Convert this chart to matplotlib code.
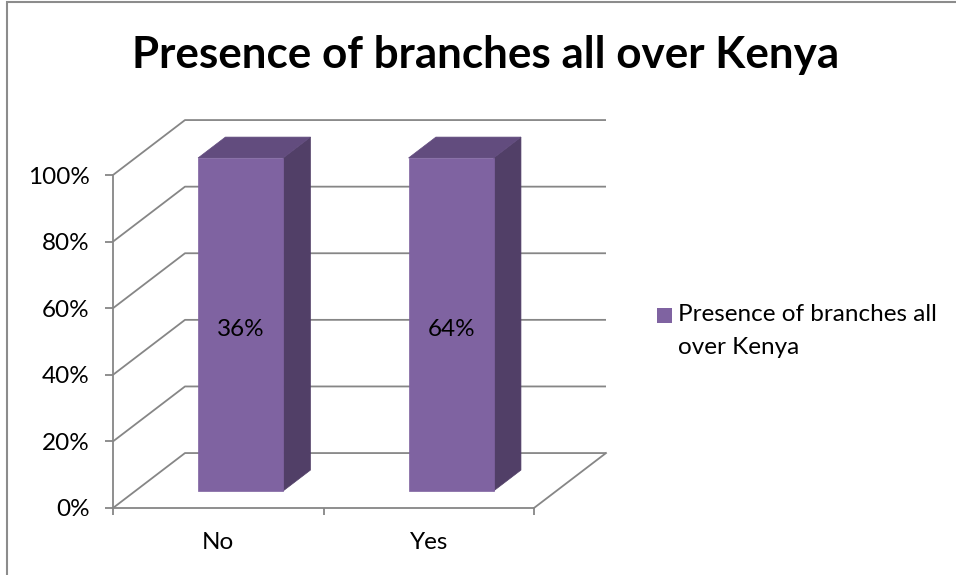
import matplotlib
matplotlib.use("Agg")
import matplotlib.pyplot as plt
from matplotlib.patches import Polygon, Rectangle

plt.rcParams['font.family'] = ['Lato', 'DejaVu Sans']

# ---- data ----
categories = ["No", "Yes"]
values = [36, 64]                       # shown as data labels
series_name = "Presence of branches all over Kenya"
title = "Presence of branches all over Kenya"
y_ticks = [0, 20, 40, 60, 80, 100]
y_tick_labels = ["0%", "20%", "40%", "60%", "80%", "100%"]

# 100% stacked with a single series -> each column fills 100%
shares = [v / v * 100 for v in values]

# ---- style / geometry ----
W, H = 956, 575
GRID = "#868686"
FRONT = "#7F63A1"
TOP = "#624C7E"
SIDE = "#513F67"
DX, DY = 0.342, 16.5        # offset of back wall (data units)
BAR_W = 0.404
D0, D1 = 0.31, 0.69         # bar depth range (fraction of depth)
FS = 17.5

fig = plt.figure(figsize=(W / 100, H / 100), dpi=100)
ax = fig.add_axes([0, 0, 1, 1])
px_x = 210.5                 # pixels per category unit
px_y = 3.33                  # pixels per percent
ax.set_xlim(-113 / px_x, (W - 113) / px_x)
ax.set_ylim(-(H - 508) / px_y, 508 / px_y)


def proj(x, y, d):
    return (x + d * DX, y + d * DY)


n = len(categories)
lw = 1.3
# walls / gridlines
for v in y_ticks:
    p0, p1, p2 = proj(0, v, 0), proj(0, v, 1), proj(n, v, 1)
    ax.plot([p0[0], p1[0], p2[0]], [p0[1], p1[1], p2[1]], color=GRID, lw=lw, zorder=1,
            solid_capstyle='butt')
a, b = proj(n, 0, 0), proj(n, 0, 1)
ax.plot([a[0], b[0]], [a[1], b[1]], color=GRID, lw=lw, zorder=1)

# axes spines
for s in ["top", "right"]:
    ax.spines[s].set_visible(False)
ax.spines["left"].set_position(("data", 0))
ax.spines["left"].set_bounds(0, 100)
ax.spines["bottom"].set_position(("data", 0))
ax.spines["bottom"].set_bounds(0, n)
for s in ["left", "bottom"]:
    ax.spines[s].set_color(GRID)
    ax.spines[s].set_linewidth(lw)
ax.patch.set_alpha(0)

ax.set_yticks(y_ticks)
ax.set_yticklabels(y_tick_labels)
ax.tick_params(axis="y", direction="out", length=5.8, width=lw, color=GRID,
               pad=11, labelsize=FS)
ax.set_xticks(range(n + 1))
ax.set_xticklabels([""] * (n + 1))
ax.tick_params(axis="x", which="major", direction="out", length=5, width=lw, color=GRID)
ax.set_xticks([i + 0.5 for i in range(n)], minor=True)
ax.set_xticklabels(categories, minor=True)
ax.tick_params(axis="x", which="minor", length=0, pad=17, labelsize=FS)

# bars
for i, (h, v) in enumerate(zip(shares, values)):
    x0, x1 = i + 0.5 - BAR_W / 2, i + 0.5 + BAR_W / 2
    front = [proj(x0, 0, D0), proj(x1, 0, D0), proj(x1, h, D0), proj(x0, h, D0)]
    top = [proj(x0, h, D0), proj(x1, h, D0), proj(x1, h, D1), proj(x0, h, D1)]
    side = [proj(x1, 0, D0), proj(x1, h, D0), proj(x1, h, D1), proj(x1, 0, D1)]
    for pts, c in [(side, SIDE), (top, TOP), (front, FRONT)]:
        ax.add_patch(Polygon(pts, closed=True, facecolor=c, edgecolor=c, lw=0.5, zorder=3))
    cx, cy = proj(i + 0.5, h / 2, D0)
    ax.text(cx, cy - 1.5, f"{v}%", ha="center", va="center", fontsize=FS, zorder=4)

# title
fig.text(486 / W, 1 - 55 / H, title, ha="center", va="center", fontsize=31.7,
         fontweight="bold")

# legend
fig.add_artist(Rectangle((657 / W, 1 - 323 / H), 15 / W, 15 / H,
                         transform=fig.transFigure, facecolor=FRONT, edgecolor="none"))
fig.text(678 / W, 1 - 315 / H, "Presence of branches all", ha="left", va="center", fontsize=FS)
fig.text(678 / W, 1 - 348 / H, "over Kenya", ha="left", va="center", fontsize=FS)

# chart border
fig.add_artist(Rectangle((6.5 / W, -0.1), 1.2, 1 - 2.5 / H + 0.1,
                         transform=fig.transFigure, facecolor="none",
                         edgecolor="#8C8C8C", lw=1.5))

fig.savefig("out.png", dpi=100)
